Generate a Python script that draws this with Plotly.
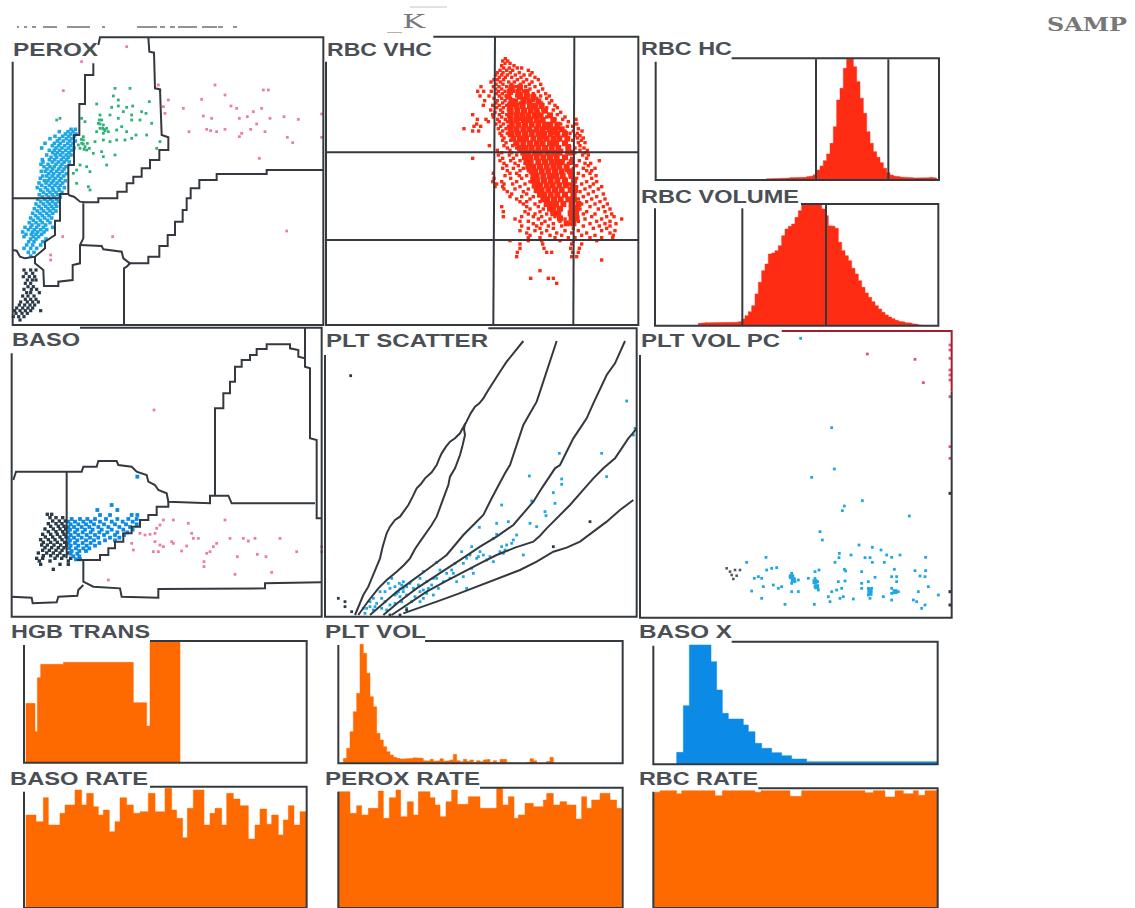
import json
import plotly.graph_objects as go

# ---------- data (channel readings, 3 channels = 1 screen dot) ----------
PEROX_PINK = [(380,140),(245,185),(190,272),(475,255),(480,270),(645,255),(790,270),(805,270),(675,285),(605,298),(505,300),(490,320),(550,325),(693,318),(710,325),(785,325),(760,335),(495,340),(610,348),(635,355),(718,355),(742,350),(810,355),(852,350),(895,358),(965,342),(770,372),(752,388),(620,388),(632,392),(650,395),(675,388),(567,395),(795,395),(725,400),(718,410),(862,412),(878,428),(965,412),(778,475),(860,693),(338,710),(188,710),(152,765),(152,780)]
PEROX_GREEN = [(345,265),(390,265),(340,288),(355,300),(290,312),(335,322),(355,318),(380,322),(398,318),(448,305),(395,345),(370,335),(330,345),(355,355),(425,335),(438,340),(245,355),(180,355),(170,360),(255,365),(300,345),(305,360),(295,370),(310,375),(320,385),(300,385),(290,395),(310,400),(325,395),(350,390),(365,380),(395,360),(420,360),(455,370),(380,395),(408,405),(395,415),(375,420),(440,405),(330,425),(310,420),(285,425),(480,425),(470,445),(250,420),(245,430),(255,440),(240,445),(260,450),(235,435),(280,460),(305,455),(310,470),(345,465),(320,495),(260,500),(240,495),(230,510),(220,520),(270,515),(230,550),(265,560),(270,570),(350,420),(250,410),(300,372),(308,385),(315,392),(250,432),(262,430),(298,360),(312,388),(244,418),(252,448),(268,445)]
PEROX_BLUE = {388:[213,226],395:[178,204,219],402:[196,212,228],409:[165,188,206,223],416:[150,178,199,215],423:[172,190,209,226],430:[135,163,181,203,219],437:[157,176,194,212],444:[125,168,186,205,222],451:[148,163,179,197,214],458:[158,172,188,207],465:[140,166,181,199,213],472:[153,170,190,205],479:[127,148,164,184,200],486:[129,157,175,193,208],493:[123,144,168,186],500:[132,150,163,181,198],507:[141,158,176,192],514:[124,136,153,170,187],521:[146,161,179,199],528:[128,140,157,174,191],535:[121,149,166,183],542:[133,144,160,178,196],549:[117,138,155,171,188],556:[125,148,165,181],563:[112,136,157,175,193],570:[122,143,160,178],577:[130,150,168,186],584:[118,139,157,173],591:[127,146,162,181],598:[113,134,152,170],605:[122,142,158,175],612:[108,130,148,166],619:[117,137,155,170],626:[103,124,144,160],633:[112,131,150,168],640:[98,120,140,158],647:[107,127,147],654:[92,114,134,155],661:[100,121,143],668:[88,108,127,150],675:[96,116,137],682:[75,92,110,130,158],689:[85,103,122,140],696:[68,98,113,132],703:[78,94,108,125],710:[72,100,116],717:[92,108,138],725:[86,102,128],735:[80,98,122],745:[72,92,110],757:[85,102],768:[92]}
PEROX_DARK = {810:[72,92,108],820:[78,98],830:[70,88,104],840:[82,97,108],850:[76,92],860:[84,100],868:[72,94,110],878:[80,92,118],888:[68,84,102],898:[76,92,108],906:[62,82,98,115],915:[58,74,90,104],924:[50,68,84,98],932:[44,60,76,92,122],940:[48,66,82],950:[40,56,72],960:[60]}
PEROX_GATES = [
 [(280,190),(280,225),(255,225),(255,312),(238,312),(238,405),(222,405),(222,495),(205,495),(205,582),(180,582),(180,662),(165,662),(165,705),(135,725),(135,745),(105,770),(75,775),(60,770),(50,752),(38,750)],
 [(445,112),(448,155),(462,158),(465,265),(480,268),(485,405),(505,412),(505,450),(478,450),(478,480),(450,480),(450,505),(425,505),(425,530),(400,530),(400,550),(380,550),(380,575),(352,575),(352,595),(295,595),(295,607),(255,607),(240,605),(222,590),(205,585)],
 [(38,595),(180,595)],
 [(250,610),(250,715),(240,735),(240,790),(218,795),(218,840),(175,845),(175,858),(132,858),(130,810),(105,790),(105,770)],
 [(240,735),(305,738),(310,748),(365,755),(370,775),(390,790),(380,800),(372,805),(372,975)],
 [(385,790),(445,790),(445,770),(478,770),(478,738),(503,738),(503,705),(525,705),(525,665),(548,665),(548,630),(560,630),(560,595),(572,595),(572,565),(598,565),(598,540),(650,540),(650,522),(800,522),(800,510),(970,510)],
 [(38,185),(38,975),(970,975),(970,112),(300,112),(295,135)],
]

RBC_SPECKLE = {176:[556],183:[548,563],190:[555,570],197:[545,582],204:[551,568,592,605],211:[540,560,578,625],218:[532,549,571,598,636],225:[527,545,562,586,612,630],232:[538,556,575,603,645],239:[522,533,551,592,620,655],246:[513,541,566,583,610,636],253:[528,549,574,601,628,662],260:[483,520,537,560,588,617,645],267:[527,545,570,596,630,668],274:[473,491,514,535,555,581,610,655],281:[529,547,566,603,640,677],288:[480,507,538,558,590,625,662,688],295:[522,545,572,614,650,680],302:[494,532,555,585,640,695],309:[528,548,568,600,665,688],316:[490,518,538,560,580,650,705],323:[530,550,572,630,680,712],330:[512,542,565,590,668,700],337:[525,548,575,610,655,722],344:[458,518,538,560,585,690,712],351:[520,545,570,640,680,735],358:[472,498,533,556,600,705,728,768],365:[505,538,562,590,660,745],372:[470,528,550,578,695,722,770],379:[462,482,542,565,610,742,758],386:[432,535,558,588,680,715,775],393:[458,476,548,572,640,735,760,786],400:[540,562,590,700,750,772],407:[545,568,620,730,765,780],414:[552,578,670,745,772,790],421:[548,572,600,715,758,784],428:[558,585,650,735,775,795],437:[508,552,578,700,748,780],444:[562,590,630,765,792],451:[532,570,600,725,780,802],458:[545,575,610,740,765,795],465:[535,568,590,705,788,805],475:[458,548,580,625,755,800],482:[540,572,600,730,778,838],490:[552,585,615,745,795,812],497:[560,595,640,720,770,805],505:[548,580,610,760,790,825],512:[562,600,625,740,800,815],520:[520,570,590,775,810],527:[555,598,620,750,790,828],535:[522,572,605,735,770,815],545:[518,545,590,630,760,800,830],552:[530,552,578,615,745,785,820],560:[525,548,600,640,770,810,845],567:[552,585,625,755,795,835],575:[562,610,650,780,820],582:[575,620,660,765,805,850],590:[570,605,640,790,830],597:[590,630,675,775,815,855],605:[600,620,660,760,800,840],612:[610,645,685,785,825,862],620:[545,620,655,705,770,810,850],627:[630,670,780,835,870],635:[550,615,660,695,760,800,855],642:[625,645,680,790,825,875],650:[550,605,640,665,705,770,815,860,882],657:[585,655,690,735,795,845,905],664:[600,625,675,720,775,830,870],671:[640,665,700,750,810,855,888],678:[605,650,685,725,790,838,870],685:[625,660,700,760,820,860],692:[600,645,680,735,775,845,885],699:[620,665,710,755,800,870],706:[630,690,725,785,825,880],713:[625,660,705,745,765,810,845,878],722:[570,625,665,720,760,830],732:[600,668,755,785],745:[600,672,752,778],757:[592,680,695,758,775],770:[590,755,770],780:[845],812:[660],835:[632,685,700],850:[710]}
RBC_CORE = {262:[575,600],276:[570,595,620],290:[565,600,620,640],304:[575,585,610,628,655],318:[570,590,608,630,645,665],332:[572,592,612,632,650,675],346:[570,590,607,625,645,662,690],360:[572,590,612,630,650,668,700],374:[575,595,615,635,655,675,690,712],388:[572,590,610,628,650,668,690,705,725],402:[575,595,615,635,655,672,692,712,735],416:[580,600,618,640,660,680,700,718,742],430:[590,610,630,650,668,690,708,735],444:[600,615,635,655,675,695,715,745],458:[610,625,645,662,682,700,718,750],472:[615,630,650,670,690,710,735],486:[620,632,655,675,695,712,725,755],500:[625,640,660,680,700,718,740],514:[635,645,665,685,705,725,750],528:[640,650,670,690,708,728,755],542:[640,652,672,692,712,735,762],556:[645,660,680,698,718,738,758],570:[650,665,685,705,725,752,765],584:[660,672,692,712,735,760],598:[670,682,702,722,745,762],612:[680,690,708,730,755,775],626:[690,700,720,755,770],640:[700,715,752,768],655:[720,755,770],670:[740,760]}
RBC_GATES = [[(525,110),(520,975)],[(763,110),(760,975)],[(18,457),(955,457)],[(18,720),(955,720)],
 [(18,185),(18,975),(955,975),(955,110),(340,110)]]

HC_START = 395
HC_HEIGHT = [4,4,5,5,6,6,6,7,7,7,8,8,10,12,16,30,42,58,78,110,160,240,275,335,362,365,340,295,245,200,145,110,85,68,52,35,22,15,12,10,9,8,7,7,6,6,6,5,7,8,6]
VOL_START = 190
VOL_HEIGHT = [7,8,9,9,9,9,8,8,9,9,10,10,12,20,30,42,60,95,130,165,185,215,218,225,240,270,290,298,305,325,345,362,365,365,365,365,362,350,330,300,298,292,250,225,210,195,172,155,135,115,98,85,72,60,50,40,32,26,21,16,13,11,9,8,6,4,2]
RBCH_GATES = [[(543,88),(543,450)],[(760,88),(760,450)],[(322,535),(322,887)],[(573,525),(573,887)],
 [(62,95),(62,450),(912,450),(912,85),(290,85)],[(60,535),(60,887),(910,887),(910,522),(498,522)]]

BASO_DARK = {568:[142,155],578:[150,168,188],588:[158,178,196],596:[145,168,186],604:[152,175,192],612:[135,160,180,197],620:[145,168,188],628:[128,152,172,192],636:[136,158,180,198],644:[122,145,165,186],652:[130,152,172,194],660:[125,142,162,182,200],668:[135,155,175,192],676:[128,148,168,186],684:[115,140,160,180,205],692:[130,152,172,192],700:[110,128,165,185,212],708:[118,150,205],718:[122,180,205],733:[160]}
BASO_BLUE = {455:[412],540:[335],555:[292,352],570:[300,330,395,412],582:[215,240,262,285,318,352,385,410],590:[205,225,250,272,300,335,368,398],598:[212,235,258,282,312,345,378,410],606:[205,222,245,268,295,325,358,390],614:[210,232,255,278,305,335,370,398],622:[205,225,248,272,298,322,352,382],630:[212,235,260,285,312,345,372],638:[205,222,245,270,295,330,358],646:[210,232,258,282,315,345],654:[206,225,248,272,298],662:[212,235,260,285],670:[208,228,250,268],678:[215,238,258],686:[212,232],694:[220,238],703:[228,240]}
BASO_PINK = [(462,255),(325,765),(490,585),(520,585),(480,600),(565,595),(675,585),(420,625),(435,630),(450,628),(465,625),(470,610),(575,625),(580,640),(595,640),(690,640),(730,640),(745,648),(765,640),(840,640),(395,655),(400,675),(465,650),(480,660),(490,665),(515,650),(520,655),(560,663),(545,678),(460,680),(475,680),(650,655),(640,665),(630,680),(620,685),(965,665),(965,680),(890,680),(772,688),(798,695),(712,695),(612,710),(612,725),(705,748),(815,742)]
BASO_GATES = [
 [(645,510),(645,250),(670,250),(670,205),(690,205),(690,170),(705,170),(705,125),(725,125),(725,105),(750,105),(750,90),(770,90),(770,72),(800,72),(800,58),(870,58),(870,70),(895,75),(895,95),(915,100),(915,125),(930,130),(930,340),(950,345),(950,580),(965,580)],
 [(915,8),(915,100)],
 [(40,465),(48,440),(245,440),(250,425),(290,425),(295,408),(350,408),(355,420),(395,425),(410,440),(440,450),(445,470),(465,480),(475,495),(500,505),(505,530),(630,535),(630,512),(685,512),(695,535),(945,535)],
 [(200,440),(200,700)],
 [(505,530),(505,545),(470,545),(470,570),(445,570),(445,585),(420,585),(420,605),(395,605),(395,625),(370,625),(370,650),(345,650),(345,670),(325,670),(325,690),(300,690),(300,705),(230,705)],
 [(250,705),(250,770),(280,785),(360,790),(365,815),(475,818),(475,792),(795,790),(795,775),(965,772)],
 [(35,815),(95,818),(98,835),(170,832),(175,815),(232,812),(235,795),(250,780)],
 [(35,85),(35,875),(965,875),(965,8),(240,8)],
]

PLT_CYAN = [(920,228),(945,310),(940,330),(845,385),(718,385),(628,453),(725,462),(725,478),(860,455),(700,503),(635,528),(705,535),(545,540),(675,560),(678,572),(530,595),(565,590),(630,595),(650,605),(478,607),(530,628),(580,645),(545,665),(555,675),(550,685),(480,680),(470,700),(455,665),(425,680),(510,695),(610,690),(350,712),(430,715),(520,710),(460,745),(380,745),(310,740),(360,735),(340,760),(300,760),(215,760),(205,775),(245,780),(260,785),(235,800),(250,800),(225,810),(240,815),(260,810),(320,770),(325,790),(300,800),(285,815),(180,800),(160,820),(150,830),(170,835),(140,850),(135,865),(160,855),(210,840),(225,835),(245,830),(260,850),(300,830),(340,810),(390,760),(410,770),(440,790),(240,792),(250,790),(230,805),(195,800),(210,790),(225,785),(238,775),(250,770),(270,775),(280,790),(295,780),(310,795),(320,805),(335,780),(350,760),(370,770),(195,830),(185,850),(200,855),(150,845),(165,845),(185,820),(130,850),(275,830),(310,820),(355,790),(395,735),(450,690),(490,690),(500,705),(560,660),(575,655),(540,680),(475,695),(440,700),(405,715),(520,640),(590,630),(455,730),(430,755),(400,745)]
PLT_DARK = [(92,152),(55,820),(75,830),(75,845),(95,860),(810,590),(700,665),(210,870),(240,870),(260,855)]
PLT_GATES = [
 [(105,870),(118,840),(130,810),(145,785),(160,750),(170,725),(180,700),(188,665),(195,640),(200,625),(210,605),(225,585),(240,575),(252,558),(265,540),(278,515),(290,490),(302,478),(315,460),(335,442),(350,420),(358,400),(365,385),(378,365),(390,350),(405,340),(420,325),(428,310),(437,295),(452,265),(465,245),(478,235),(490,220),(505,195),(520,170),(540,140),(560,110),(585,80),(610,48)],
 [(115,870),(145,828),(175,790),(200,765),(230,740),(252,720),(270,700),(285,672),(300,650),(318,625),(335,600),(350,575),(360,550),(372,515),(385,480),(390,455),(405,430),(412,410),(420,390),(428,360),(435,330),(432,312),(435,295)],
 [(150,870),(190,835),(230,800),(265,775),(300,750),(340,720),(380,690),(405,660),(430,630),(460,600),(490,570),(515,520),(540,470),(555,445),(570,420),(590,360),(610,300),(630,265),(650,230),(660,200),(670,170),(680,140),(690,110),(700,80),(710,48)],
 [(190,870),(240,828),(290,790),(345,755),(400,720),(440,692),(480,665),(530,635),(580,600),(610,565),(640,530),(665,490),(690,450),(705,430),(720,420),(740,380),(760,340),(780,310),(800,280),(820,235),(840,190),(860,150),(885,115),(900,80),(915,48)],
 [(215,870),(270,833),(320,800),(375,770),(430,740),(480,715),(530,690),(585,668),(640,650),(660,632),(680,610),(715,575),(750,540),(785,500),(820,460),(850,430),(885,400),(905,370),(925,340),(938,325),(950,310)],
 [(250,865),(300,848),(350,830),(410,808),(470,785),(535,760),(600,735),(650,710),(700,680),(740,668),(780,650),(820,620),(860,590),(900,555),(940,525)],
 [(15,90),(15,875),(950,875),(950,10),(505,10)],
]

PC_CYAN = [(497,40),(590,308),(598,432),(530,457),(682,527),(628,543),(622,557),(823,573),(555,620),(562,645),(672,660),(712,667),(738,675),(755,690),(770,697),(795,690),(872,697),(613,685),(612,698),(648,690),(690,698),(705,698),(393,697),(335,712),(600,712),(712,712),(748,712),(425,728),(410,730),(395,735),(552,735),(540,740),(628,733),(632,738),(680,740),(778,733),(840,737),(872,737),(370,755),(358,760),(380,760),(470,745),(465,755),(475,760),(490,765),(520,760),(540,760),(548,770),(630,768),(610,770),(680,775),(700,770),(720,757),(770,755),(785,755),(785,770),(855,753),(870,755),(415,780),(385,785),(430,790),(440,785),(470,775),(480,770),(540,785),(550,795),(620,790),(605,795),(590,800),(700,790),(710,790),(680,790),(770,790),(790,800),(770,805),(880,785),(350,798),(470,800),(490,800),(580,815),(625,815),(615,820),(655,822),(700,810),(705,820),(745,815),(770,825),(850,800),(380,820),(450,838),(538,838),(585,830),(835,825),(845,830),(870,840),(860,850),(910,810)]
PC_CORE = [(470,755),(475,765),(540,770),(545,785),(705,795),(705,805),(780,800)]
PC_DARK = [(275,730),(285,740),(300,735),(315,735),(290,750),(305,752),(295,762)]
PC_RED = [(840,103),(697,87),(865,173),(945,60),(945,75),(945,100),(945,135),(945,150),(945,165),(945,215),(945,365),(945,400)]
PC_EDGE = [(945,505),(945,800),(945,840)]
PC_FRAME = [(15,90),(15,878),(950,878),(950,200)]
PC_RED_FRAME = [(950,200),(950,18),(440,18)]

HGB_EDGE = [78,105,112,122,190,400,440,450,540]
HGB_TOP = [265,350,188,148,142,263,333,78]
BRATE_EDGE = [78,108,130,145,180,195,225,245,260,280,295,310,328,345,360,380,400,420,445,465,495,515,530,548,562,580,612,630,645,665,680,700,720,745,765,780,800,815,835,850,865,882,900,918]
BRATE_TOP = [600,620,548,630,595,570,525,570,535,575,600,585,650,620,548,570,595,590,535,590,520,585,610,668,580,525,630,595,580,630,535,552,572,672,630,582,628,600,660,615,572,630,590]
BL_GATES = [[(72,90),(72,443),(920,443),(920,78),(450,78)],[(72,530),(72,879),(920,879),(920,515),(450,515)]]

PLTVOL_START = 70
PLTVOL_HEIGHT = [15,45,95,155,210,357,330,270,200,170,90,70,50,35,25,18,15,13,13,15,15,17,17,15,8,7,12,6,8,14,6,8,10,27,8,5,12,6,10,2,8,5,10,12,3,8,2,12,12,2,0,0,0,0,0,3,14,8,0,0,0,6,18]
PRATE_EDGE = [55,90,110,125,145,175,190,208,228,242,262,280,295,330,345,360,378,395,412,445,480,530,548,565,582,595,615,640,670,680,700,720,740,768,785,800,815,840,870,890,905]
PRATE_TOP = [530,595,572,600,580,528,610,548,525,605,560,600,530,548,570,605,560,525,568,545,580,520,570,545,610,600,565,575,555,535,570,560,570,612,545,580,555,535,555,580]
BM_GATES = [[(55,90),(55,445),(908,445),(908,78),(315,78)],[(55,530),(55,879),(908,879),(908,518),(480,518)]]

BASOX_EDGE = [125,145,163,228,245,262,280,325,340,360,380,410,440,470,515,908]
BASOX_TOP = [412,272,90,140,225,295,312,330,350,385,400,413,422,432,440]
RRATE_EDGE = [55,75,125,140,240,262,360,378,465,500,690,715,750,780,805,835,850,870,908]
RRATE_TOP = [532,527,536,527,542,527,532,527,544,527,533,527,546,527,536,527,541,527]
BR_GATES = [[(55,92),(55,448),(908,448),(908,80),(290,80)],[(55,530),(55,879),(908,879),(908,520),(370,520)]]

LABELS = {"PEROX":(12,50,85),"RBC VHC":(326,50,105),"RBC HC":(640,49,91),"RBC VOLUME":(640,197,158),
          "BASO":(11,340,68),"PLT SCATTER":(325,341,162),"PLT VOL PC":(640,341,139),
          "HGB TRANS":(10,632,139),"PLT VOL":(324,632,101),"BASO X":(638,632,93),
          "BASO RATE":(9,779,138),"PEROX RATE":(324,779,155),"RBC RATE":(638,779,119)}
TOP_TEXTS = {"_K":(386,21,38),"SAMP":(1046,24,80)}
SMEAR_SEGMENTS = [(17,19),(24,27),(32,36),(43,57),(67,90),(102,105),(137,157),(160,165),(170,175),(178,197),(202,217),(218,223),(233,237)]
OVER_K = (410,447)

# ---------- style ----------
DARK, ORANGE, RED, BLUE = "#34393f", "#ff6a00", "#ff2c14", "#0b8be6"
CYAN, GREEN, PINK, INK = "#1fa6e4", "#2fb277", "#ea7fa0", "#2b3a48"
W, H = 1135, 908
CROPS = [(0,0,330,330),(320,0,330,330),(635,30,330,300),
         (0,325,330,300),(320,325,330,300),(635,325,330,300),
         (0,615,330,293),(320,615,320,293),(635,615,320,293)]

fig = go.Figure()
layout = {}
for i,(ox,oy,cw,ch) in enumerate(CROPS,1):
    s = "" if i==1 else str(i)
    layout["xaxis"+s] = dict(domain=[ox/W,(ox+cw)/W],range=[0,cw*3],visible=False,anchor="y"+s,fixedrange=True)
    layout["yaxis"+s] = dict(domain=[1-(oy+ch)/H,1-oy/H],range=[ch*3,0],visible=False,anchor="x"+s,fixedrange=True)

def rows(d):
    return [(x,y) for y,xs in d.items() for x in xs]

def pts(i, data, color, size=2.8):
    s = "" if i==1 else str(i)
    fig.add_trace(go.Scatter(x=[p[0] for p in data],y=[p[1] for p in data],mode="markers",xaxis="x"+s,yaxis="y"+s,
        marker=dict(symbol="square",size=size,color=color,line=dict(width=0)),cliponaxis=False,showlegend=False,hoverinfo="skip"))

def lines(i, polys, color=DARK, width=2):
    s = "" if i==1 else str(i)
    for p in polys:
        fig.add_trace(go.Scatter(x=[q[0] for q in p],y=[q[1] for q in p],mode="lines",xaxis="x"+s,yaxis="y"+s,
            line=dict(color=color,width=width),cliponaxis=False,showlegend=False,hoverinfo="skip"))

def bars(i, edges, heights, base, color):
    # stepped histogram outline, filled, so neighbouring bins leave no seams
    s = "" if i==1 else str(i)
    xs, ys = [edges[0]], [base]
    for a,b,h in zip(edges,edges[1:],heights):
        xs += [a,b]; ys += [base-h,base-h]
    xs.append(edges[-1]); ys.append(base)
    fig.add_trace(go.Scatter(x=xs,y=ys,mode="lines",fill="toself",fillcolor=color,line=dict(color=color,width=0.5),
        xaxis="x"+s,yaxis="y"+s,showlegend=False,hoverinfo="skip"))

def uniform(start, heights, step=10):
    return [start+step*k for k in range(len(heights)+1)]

pts(1,PEROX_PINK,PINK); pts(1,PEROX_GREEN,GREEN); pts(1,rows(PEROX_BLUE),CYAN,3.6); pts(1,rows(PEROX_DARK),INK,3.2)
lines(1,PEROX_GATES)
pts(2,rows(RBC_SPECKLE),RED,3.4); pts(2,rows(RBC_CORE),RED,6)
lines(2,RBC_GATES)
bars(3,uniform(HC_START,HC_HEIGHT),HC_HEIGHT,450,RED); bars(3,uniform(VOL_START,VOL_HEIGHT),VOL_HEIGHT,887,RED)
lines(3,RBCH_GATES)
pts(4,BASO_PINK,PINK); pts(4,rows(BASO_DARK),INK,3.4); pts(4,rows(BASO_BLUE),BLUE,3.8)
lines(4,BASO_GATES)
pts(5,PLT_CYAN,CYAN); pts(5,PLT_DARK,INK)
lines(5,PLT_GATES)
pts(6,PC_CYAN,CYAN,2.8); pts(6,PC_CORE,CYAN,5); pts(6,PC_DARK,"#55595e",2.6); pts(6,PC_RED,"#e0566f",2.8); pts(6,PC_EDGE,DARK,3)
lines(6,[PC_FRAME]); lines(6,[PC_RED_FRAME],"#a31f30")
bars(7,HGB_EDGE,[443-t for t in HGB_TOP],443,ORANGE); bars(7,BRATE_EDGE,[879-t for t in BRATE_TOP],879,ORANGE)
lines(7,BL_GATES)
bars(8,uniform(PLTVOL_START,PLTVOL_HEIGHT),PLTVOL_HEIGHT,445,ORANGE); bars(8,PRATE_EDGE,[879-t for t in PRATE_TOP],879,ORANGE)
lines(8,BM_GATES)
bars(9,BASOX_EDGE,[448-t for t in BASOX_TOP],448,BLUE); bars(9,RRATE_EDGE,[879-t for t in RRATE_TOP],879,ORANGE)
lines(9,BR_GATES)

ann = []
for t,(x,y,_) in LABELS.items():
    ann.append(dict(text=t,x=x/W,y=1-y/H,xref="paper",yref="paper",xanchor="left",yanchor="middle",align="left",showarrow=False,borderpad=0,
                    font=dict(family="Liberation Sans",size=18,color="#4a4f55",weight=700)))
for t,(x,y,_) in TOP_TEXTS.items():
    ann.append(dict(text=t,x=x/W,y=1-y/H,xref="paper",yref="paper",xanchor="left",yanchor="middle",align="left",showarrow=False,borderpad=0,
                    font=dict(family="DejaVu Serif",size=19,color="#777777",weight=700 if t=="SAMP" else 400)))

shapes = [dict(type="line",xref="paper",yref="paper",x0=a/W,x1=b/W,y0=1-27/H,y1=1-27/H,line=dict(color="#6a7076",width=1.5)) for a,b in SMEAR_SEGMENTS]
shapes.append(dict(type="line",xref="paper",yref="paper",x0=OVER_K[0]/W,x1=OVER_K[1]/W,y0=1-7/H,y1=1-7/H,line=dict(color="#c4c4c4",width=1)))

fig.update_layout(width=W,height=H,margin=dict(l=0,r=0,t=0,b=0),paper_bgcolor="white",plot_bgcolor="rgba(0,0,0,0)",
    showlegend=False,hovermode=False,annotations=ann,shapes=shapes,**layout)

widths = {t:v[2] for t,v in {**LABELS,**TOP_TEXTS}.items()}
post = """
document.body.style.margin='0';document.documentElement.style.overflow='hidden';
var w=%s;
document.querySelectorAll('text.annotation-text').forEach(function(t){
  var k=t.textContent; if(w[k]){t.setAttribute('textLength',w[k]);t.setAttribute('lengthAdjust','spacingAndGlyphs');}
});
""" % json.dumps(widths)
fig.write_html("out.html",post_script=post,config=dict(displayModeBar=False))
